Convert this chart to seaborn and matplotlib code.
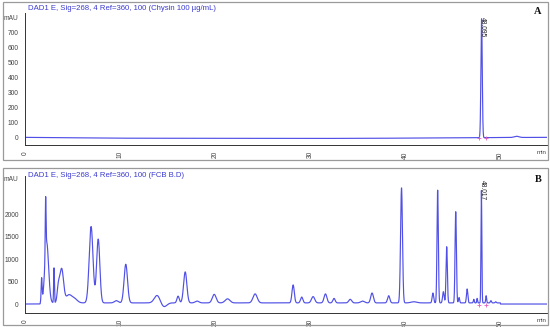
import numpy as np
import pandas as pd
import matplotlib
matplotlib.use("Agg")
import matplotlib.pyplot as plt
import seaborn as sns
from matplotlib.patches import Rectangle

# ---------------- data ----------------
title_a = "DAD1 E, Sig=268, 4 Ref=360, 100 (Chysin 100 µg/mL)"
title_b = "DAD1 E, Sig=268, 4 Ref=360, 100 (FCB B.D)"
label_a = "48.095"
label_b = "48.017"

# Panel A peaks: retention time (min), height (mAU), sigma (min)
rt_a = [48.02, 51.7, 10.0, 30.0]
h_a = [795, 8, -4, -9]
w_a = [0.07, 0.25, 6.0, 14.0]

# Panel B peaks
rt_b = [1.75, 2.17, 2.28, 3.05, 3.5, 3.85, 4.6, 5.2, 6.95, 7.7, 9.6, 10.6,
        13.9, 14.6, 16.1, 16.85, 18.1, 19.9, 21.3, 24.2, 28.2, 29.1, 30.3,
        31.6, 32.5, 34.2, 35.5, 36.5, 38.25, 39.6, 40.9, 42.9, 43.4, 44.0,
        44.35, 45.3, 45.65, 46.5, 47.2, 47.55, 48.0, 48.5, 49.0, 49.5]
h_b = [520, 1200, 1350, 780, 300, 760, 170, 90, 1700, 1420, 50, 860,
       170, -90, 150, 690, 40, 190, 90, 200, 400, 130, 140,
       200, 100, 80, 40, 220, 160, 2560, 25, 220, 2510, 250,
       1250, 2030, 120, 310, 80, 100, 2500, 160, 50, 25]
w_b = [0.05, 0.04, 0.2, 0.04, 0.12, 0.2, 0.3, 0.3, 0.2, 0.17, 0.2, 0.18,
       0.3, 0.3, 0.12, 0.17, 0.2, 0.2, 0.25, 0.22, 0.12, 0.12, 0.17,
       0.15, 0.12, 0.15, 0.2, 0.14, 0.12, 0.1, 0.3, 0.08, 0.07, 0.08,
       0.07, 0.07, 0.06, 0.07, 0.05, 0.04, 0.045, 0.05, 0.06, 0.06]

x_major = [0, 10, 20, 30, 40, 50]
ya_ticks = [0, 100, 200, 300, 400, 500, 600, 700]
yb_ticks = [0, 500, 1000, 1500, 2000]


def trace(rts, hs, ws, base):
    t = np.linspace(0, 55, 8000)
    y = np.full_like(t, base)
    for r, h, w in zip(rts, hs, ws):
        y += h * np.exp(-0.5 * ((t - r) / w) ** 2)
    return pd.DataFrame({"t": t, "mAU": y})


df_a = trace(rt_a, h_a, w_a, 0.0)
df_b = trace(rt_b, h_b, w_b, 0.0)
df_b.loc[df_b.t > 1.6, "mAU"] += 25
df_b.loc[df_b.t > 50, "mAU"] -= 25

# ---------------- figure ----------------
sns.set_style("white")
plt.rcParams["font.family"] = ["Liberation Sans", "DejaVu Sans"]
W, H = 550, 327
fig = plt.figure(figsize=(5.5, 3.27), dpi=100)

line_col = "#5050e6"
title_col = "#3c3cd0"
axis_col = "#333333"


def fr(x0, y0, x1, y1):
    return [x0 / W, 1 - y1 / H, (x1 - x0) / W, (y1 - y0) / H]


for (x0, y0, x1, y1) in [(3, 2, 548, 160), (3, 168, 548, 325)]:
    fig.patches.append(Rectangle((x0 / W, 1 - y1 / H), (x1 - x0) / W, (y1 - y0) / H,
                                 transform=fig.transFigure, fill=False,
                                 edgecolor="#9a9a9a", linewidth=0.9))

ax_a = fig.add_axes(fr(25, 13, 547, 145))
ax_b = fig.add_axes(fr(25, 176, 547, 313))

panels = [
    (ax_a, df_a, (-53, 830), ya_ticks, 800, title_a, "A", label_a, 8, 12),
    (ax_b, df_b, (-200, 2850), yb_ticks, 2800, title_b, "B", label_b, 175, 179),
]

for ax, df, ylim, yt, mtop, title, letter, plabel, ytitle, yletter in panels:
    sns.lineplot(data=df, x="t", y="mAU", ax=ax, color=line_col, linewidth=0.85)
    ax.set_xlim(0, 54.9)
    ax.set_ylim(*ylim)
    ax.set_xlabel("")
    ax.set_ylabel("")
    for s in ["top", "right"]:
        ax.spines[s].set_visible(False)
    for s in ["left", "bottom"]:
        ax.spines[s].set_color(axis_col)
        ax.spines[s].set_linewidth(0.7)
    ax.set_xticks(x_major)
    ax.set_xticks(np.arange(0, 55, 2), minor=True)
    ax.set_xticklabels([str(v) for v in x_major], rotation=90)
    ax.set_yticks(yt + [mtop])
    ax.set_yticklabels([str(v) for v in yt] + ["mAU"])
    ax.tick_params(axis="both", which="major", direction="out", length=3,
                   width=0.6, color=axis_col, labelsize=4.8, labelcolor="#444444", pad=1.5)
    ax.tick_params(axis="x", which="minor", direction="out", length=2,
                   width=0.5, color=axis_col)
    ax.text(54.85, -0.04, "min", transform=ax.get_xaxis_transform(), fontsize=4.5,
            color="#444444", ha="right", va="top", rotation=0)
    ax.set_facecolor("none")
    fig.text(28 / W, 1 - ytitle / H, title, fontsize=5.6, color=title_col,
             ha="left", va="center")
    fig.text(538 / W, 1 - yletter / H, letter, fontsize=7.5, fontweight="bold",
             family="Liberation Serif", ha="center", va="center", color="#111111")
    ax.text(48.1, ylim[1] * 0.97, plabel, rotation=270, fontsize=4.8,
            color="#222222", ha="center", va="top")
    ax.plot([47.7, 48.5], [ylim[0] * 0.15, ylim[0] * 0.15], "+", color="#e060c0",
            markersize=2.5, markeredgewidth=0.6)

fig.savefig("out.png", dpi=100, facecolor="white")
